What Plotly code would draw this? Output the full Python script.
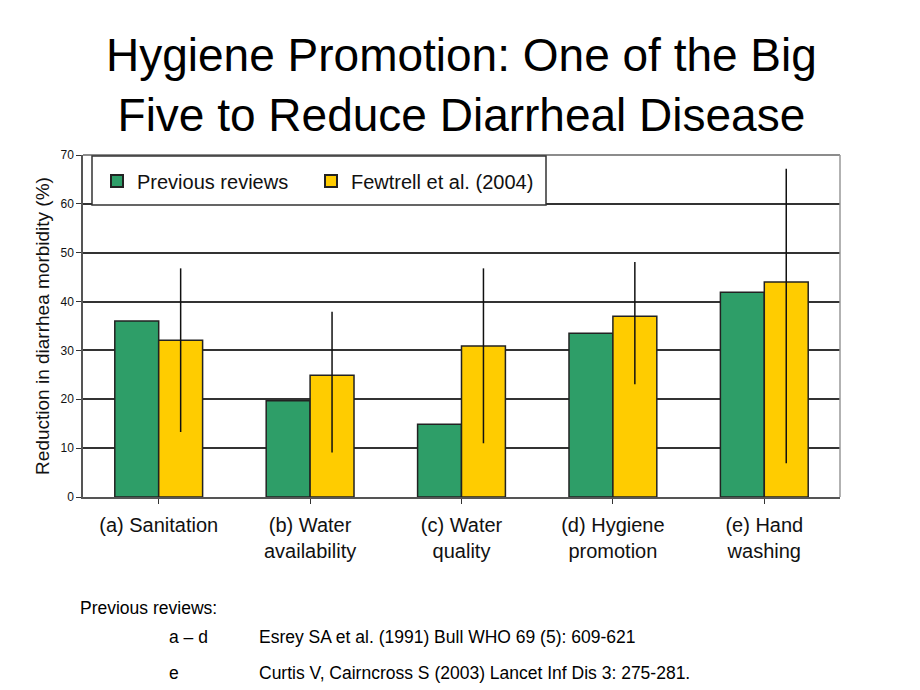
import plotly.graph_objects as go

categories = ["(a) Sanitation", "(b) Water<br>availability", "(c) Water<br>quality",
              "(d) Hygiene<br>promotion", "(e) Hand<br>washing"]
previous_reviews = [36, 19.7, 14.9, 33.5, 41.9]
fewtrell = [32.1, 24.9, 30.9, 37.0, 44.0]
fewtrell_high = [46.8, 37.9, 46.8, 48.1, 67.2]
fewtrell_low = [13.3, 9.1, 11.0, 23.1, 6.9]
y_ticks = [0, 10, 20, 30, 40, 50, 60, 70]

err_plus = [h - v for h, v in zip(fewtrell_high, fewtrell)]
err_minus = [v - l for v, l in zip(fewtrell, fewtrell_low)]

FONT = "Liberation Sans, Arial, sans-serif"

# plot area in reference pixel coords (for placing paper-coord annotations)
PX0, PX1, PY0, PY1 = 83, 840, 155, 497


def px(x):
    return (x - PX0) / (PX1 - PX0)


def py(y):
    return (PY1 - y) / (PY1 - PY0)


fig = go.Figure()
fig.add_trace(go.Bar(
    x=categories, y=previous_reviews, name="Previous reviews",
    marker=dict(color="#2E9E68", line=dict(color="#222222", width=1.5)),
    legend="legend",
))
fig.add_trace(go.Bar(
    x=categories, y=fewtrell, name="Fewtrell et al. (2004)",
    marker=dict(color="#FFCC00", line=dict(color="#222222", width=1.5)),
    error_y=dict(type="data", symmetric=False, array=err_plus, arrayminus=err_minus,
                 color="#111111", thickness=1.5, width=0),
    legend="legend2",
))

legend_common = dict(
    orientation="h", yanchor="middle", xanchor="left",
    borderwidth=0, bgcolor="rgba(0,0,0,0)",
    font=dict(size=20, family=FONT), itemsizing="constant",
)

fig.update_layout(
    width=920, height=690,
    paper_bgcolor="white", plot_bgcolor="white",
    margin=dict(l=75, r=88, t=147, b=201),
    barmode="group", bargap=0.42, bargroupgap=0,
    font=dict(family=FONT, color="#111111"),
    showlegend=True,
    legend=dict(x=px(97), y=py(181), **legend_common),
    legend2=dict(x=px(311), y=py(181), **legend_common),
    xaxis=dict(
        showline=True, linecolor="#555555", linewidth=1.5,
        ticks="outside", ticklen=5, tickcolor="#333333",
        tickfont=dict(size=20, family=FONT), ticklabelstandoff=4,
        showgrid=False,
    ),
    yaxis=dict(
        range=[0, 70], tickvals=y_ticks, ticktext=[str(t) for t in y_ticks],
        showline=True, linecolor="#555555", linewidth=1.5,
        ticks="outside", ticklen=5, tickcolor="#333333",
        tickfont=dict(size=12, family=FONT),
        showgrid=True, gridcolor="#333333", gridwidth=1.5,
        zeroline=False, mirror=False,
        title=dict(text="Reduction in diarrhea morbidity (%)", font=dict(size=19, family=FONT),
                   standoff=6),
    ),
)

# top gridline / right border of plot area
fig.add_shape(type="line", xref="paper", yref="paper", x0=0, x1=1, y0=1, y1=1,
              line=dict(color="#666666", width=1.5))
fig.add_shape(type="line", xref="paper", yref="paper", x0=1, x1=1, y0=0, y1=1,
              line=dict(color="#999999", width=1.5))
# legend box
fig.add_shape(type="rect", xref="paper", yref="paper", layer="above",
              x0=px(92), x1=px(546), y0=py(205), y1=py(156),
              fillcolor="white", line=dict(color="#333333", width=1.5))

fig.add_annotation(text="Hygiene Promotion: One of the Big<br>Five to Reduce Diarrheal Disease",
                   xref="paper", yref="paper", x=0.5, y=py(85), xanchor="center",
                   yanchor="middle", showarrow=False, borderpad=0,
                   font=dict(size=46, family=FONT, color="#000000"))

notes = [
    ("Previous reviews:", 78, 608),
    ("a – d", 167, 637),
    ("Esrey SA et al. (1991) Bull WHO 69 (5): 609-621", 257, 637),
    ("e", 167, 673),
    ("Curtis V, Cairncross S (2003) Lancet Inf Dis 3: 275-281.", 257, 673),
]
for txt, x, y in notes:
    fig.add_annotation(text=txt, xref="paper", yref="paper",
                       x=px(x), y=py(y),
                       xanchor="left", yanchor="middle", showarrow=False,
                       font=dict(size=17.5, family=FONT, color="#000000"))

fig.write_html("out.html")
